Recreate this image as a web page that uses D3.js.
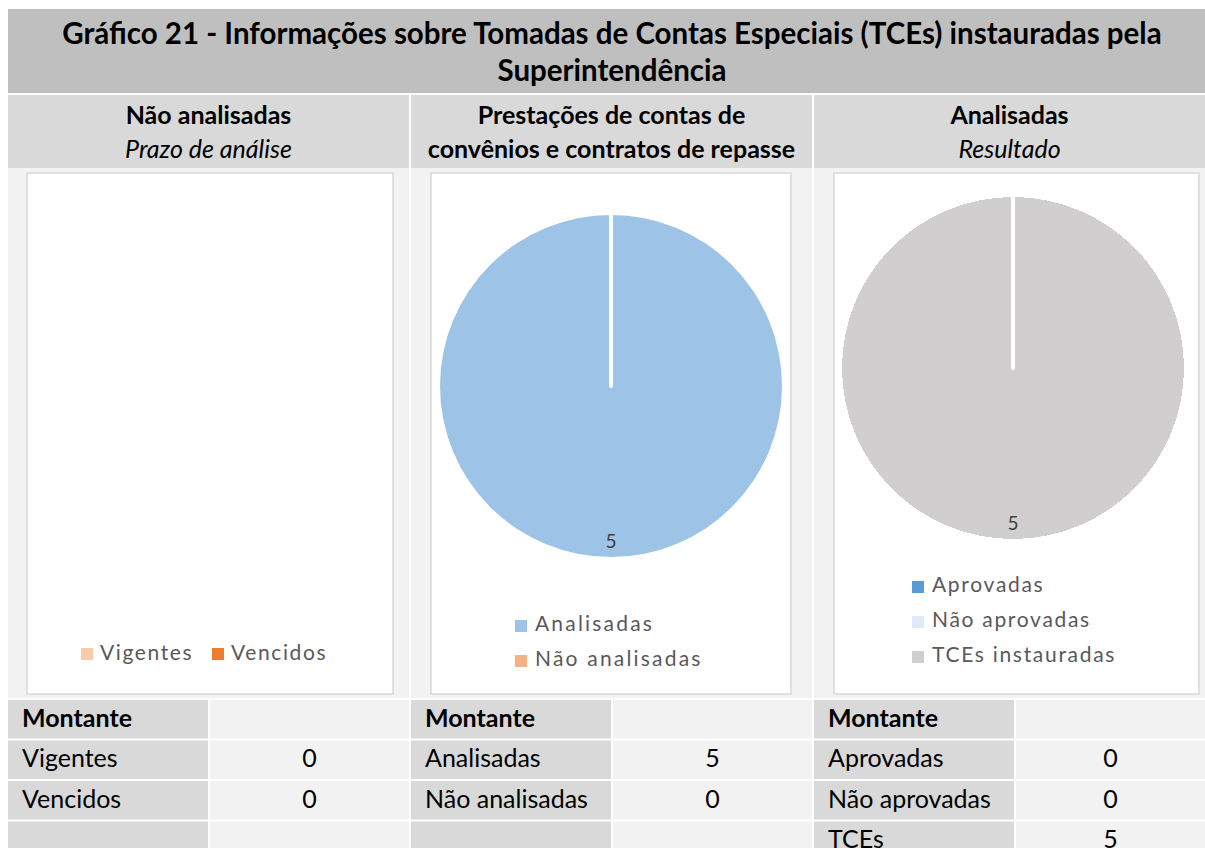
<!DOCTYPE html>
<html>
<head>
<meta charset="utf-8">
<script src="https://cdn.jsdelivr.net/npm/d3@7"></script>
<style>
  body { margin: 0; background: #fff; }
  text { font-family: Lato, "Open Sans", sans-serif; }
</style>
</head>
<body>
<div id="chart"></div>
<script>
// Infographic with three panels: two pies + summary tables

const titleLines = ["Gráfico 21 - Informações sobre Tomadas de Contas Especiais (TCEs) instauradas pela", "Superintendência"];

const panelTitles = ["Não analisadas", "Prestações de contas de", "Analisadas"];
const panelSubtitles = ["Prazo de análise", "convênios e contratos de repasse", "Resultado"];
const subtitleItalic = [true, false, true];

const cats1 = ["Vigentes", "Vencidos"];
const vals1 = [0, 0];
const colors1 = ["#f8cbad", "#ed7d31"];

const cats2 = ["Analisadas", "Não analisadas"];
const vals2 = [5, 0];
const colors2 = ["#9dc3e6", "#f4b183"];

const cats3 = ["Aprovadas", "Não aprovadas", "TCEs instauradas"];
const vals3 = [0, 0, 5];
const colors3 = ["#5b9bd5", "#deebf7", "#d0cece"];

const tableLabels3 = ["Aprovadas", "Não aprovadas", "TCEs"];

const width = 1205, height = 848;

// layout of the three columns and their chart boxes
const colX = [8, 411, 814], colW = [401, 401, 391];
const boxX = [27, 431, 834], boxW = [366, 360, 365];

let svg = d3.select("#chart")
    .append("svg")
    .attr("width", width)
    .attr("height", height);

// title band
svg.append("rect")
    .attr("x", 8).attr("y", 9)
    .attr("width", width - 8).attr("height", 84)
    .attr("fill", "#bfbfbf");

svg.selectAll(".title")
    .data(titleLines)
    .join("text")
    .attr("x", 612)
    .attr("y", (d, i) => 44 + i * 37)
    .attr("text-anchor", "middle")
    .style("font-size", "29.5px")
    .style("font-weight", "bold")
    .style("fill", "#000")
    .text(d => d);

const panels = [
    { cats: cats1, vals: vals1, colors: colors1, labels: cats1 },
    { cats: cats2, vals: vals2, colors: colors2, labels: cats2 },
    { cats: cats3, vals: vals3, colors: colors3, labels: tableLabels3 }
];

panels.forEach((p, i) => {
    const x0 = colX[i], w = colW[i];
    const cx = x0 + w / 2;

    // header cell
    svg.append("rect")
        .attr("x", x0).attr("y", 95)
        .attr("width", w).attr("height", 73)
        .attr("fill", "#d9d9d9");

    svg.append("text")
        .attr("x", cx).attr("y", 124)
        .attr("text-anchor", "middle")
        .style("font-size", "25px")
        .style("font-weight", "bold")
        .text(panelTitles[i]);

    svg.append("text")
        .attr("x", cx).attr("y", 158)
        .attr("text-anchor", "middle")
        .style("font-size", "25px")
        .style("font-weight", subtitleItalic[i] ? "normal" : "bold")
        .style("font-style", subtitleItalic[i] ? "italic" : "normal")
        .text(panelSubtitles[i]);

    // chart area
    svg.append("rect")
        .attr("x", x0).attr("y", 168)
        .attr("width", w).attr("height", 530)
        .attr("fill", "#f2f2f2");

    const bx = boxX[i], bw = boxW[i];
    svg.append("rect")
        .attr("x", bx).attr("y", 173)
        .attr("width", bw).attr("height", 521)
        .attr("fill", "#fff")
        .attr("stroke", "#d9d9d9")
        .attr("stroke-width", 1.5);

    // pie
    const total = d3.sum(p.vals);
    const r = 171;
    const pcx = i === 2 ? 1013 : bx + bw / 2;
    const pcy = i === 2 ? 368 : 386;

    if (total > 0) {
        let pie = d3.pie().sort(null).value(d => d)(p.vals);
        let arc = d3.arc().innerRadius(0).outerRadius(r);
        let labelArc = d3.arc().innerRadius(r * 0.92).outerRadius(r * 0.92);

        let g = svg.append("g").attr("transform", `translate(${pcx},${pcy})`);

        g.selectAll("path")
            .data(pie.filter(d => d.value > 0))
            .join("path")
            .attr("d", arc)
            .attr("fill", d => p.colors[d.index])
            .attr("shape-rendering", i === 2 ? "crispEdges" : "auto");

        // slice separators
        g.selectAll("line")
            .data(pie.filter(d => d.value > 0))
            .join("line")
            .attr("x1", 0).attr("y1", 0)
            .attr("x2", d => Math.sin(d.startAngle) * r)
            .attr("y2", d => -Math.cos(d.startAngle) * r)
            .attr("stroke", "#fff")
            .attr("stroke-width", 4)
            .attr("stroke-linecap", "round");

        g.selectAll(".lbl")
            .data(pie.filter(d => d.value > 0))
            .join("text")
            .attr("class", "lbl")
            .attr("transform", d => `translate(${labelArc.centroid(d)})`)
            .attr("text-anchor", "middle")
            .attr("dominant-baseline", "middle")
            .style("font-size", "19px")
            .style("fill", "#404040")
            .text(d => d.value);
    }

    // legend
    let legend = svg.append("g");
    if (i === 0) {
        const lx = [81, 212];
        p.cats.forEach((c, k) => {
            legend.append("rect")
                .attr("x", lx[k]).attr("y", 648)
                .attr("width", 12).attr("height", 12)
                .attr("fill", p.colors[k]);
            legend.append("text")
                .attr("x", lx[k] + 19).attr("y", 655)
                .attr("dominant-baseline", "middle")
                .style("font-size", "21px")
                .style("letter-spacing", "1.6px")
                .style("fill", "#595959")
                .text(c);
        });
    } else {
        const ly = i === 1 ? 626 : 587;
        const lx = i === 1 ? 515 : 912;
        p.cats.forEach((c, k) => {
            legend.append("rect")
                .attr("x", lx).attr("y", ly + k * 35 - 6)
                .attr("width", 12).attr("height", 12)
                .attr("fill", p.colors[k]);
            legend.append("text")
                .attr("x", lx + 20).attr("y", ly + k * 35)
                .attr("dominant-baseline", "middle")
                .style("font-size", "21px")
                .style("letter-spacing", i === 1 ? "2.2px" : "1.7px")
                .style("fill", "#595959")
                .text(c);
        });
    }

    // table
    const rowsLabel = ["Montante"].concat(p.labels);
    const rowsVal = [""].concat(p.vals.map(String));
    while (rowsLabel.length < 4) { rowsLabel.push(""); rowsVal.push(""); }

    let y = d3.scaleBand()
        .domain(d3.range(4))
        .range([700, 860])
        .paddingInner(0.05);

    const lw = 200;
    rowsLabel.forEach((t, k) => {
        svg.append("rect")
            .attr("x", x0).attr("y", y(k))
            .attr("width", lw).attr("height", y.bandwidth())
            .attr("fill", "#d9d9d9");
        svg.append("rect")
            .attr("x", x0 + lw + 2).attr("y", y(k))
            .attr("width", w - lw - 2).attr("height", y.bandwidth())
            .attr("fill", "#f2f2f2");
        svg.append("text")
            .attr("x", x0 + 14).attr("y", y(k) + y.bandwidth() / 2 + 1)
            .attr("dominant-baseline", "middle")
            .style("font-size", "25px")
            .style("font-weight", k === 0 ? "bold" : "normal")
            .text(t);
        svg.append("text")
            .attr("x", x0 + lw + 2 + (w - lw - 2) / 2).attr("y", y(k) + y.bandwidth() / 2 + 1)
            .attr("text-anchor", "middle")
            .attr("dominant-baseline", "middle")
            .style("font-size", "25px")
            .text(rowsVal[k]);
    });
});
</script>
</body>
</html>
